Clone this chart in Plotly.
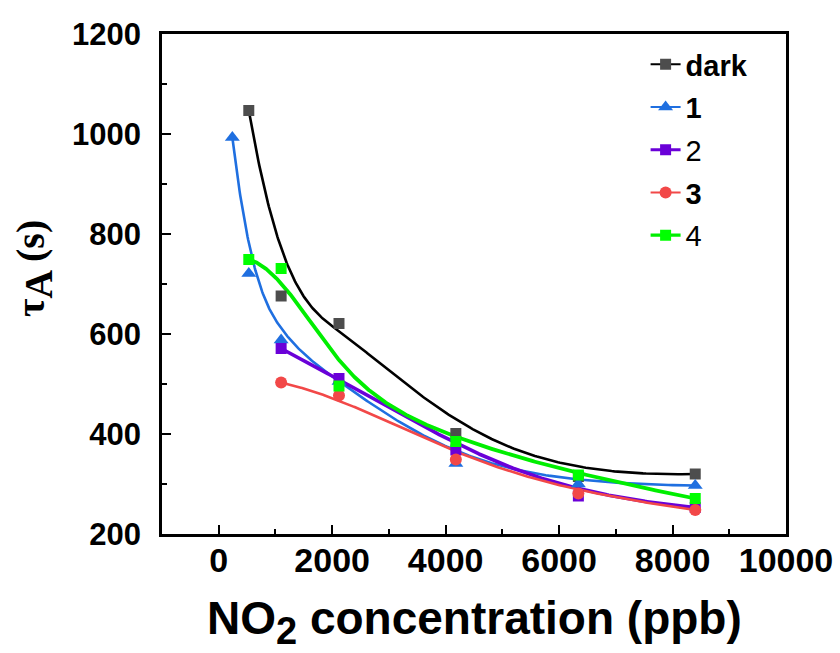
import numpy as np
import plotly.graph_objects as go

# ---- data ----
x_dark = [530, 1100, 2120, 4180, 6340, 8400]
y_dark = [1047, 676, 621, 401, 315, 320]

x_s1 = [240, 530, 1100, 2120, 4180, 6340, 8400]
y_s1 = [993, 721, 588, 505, 341, 300, 297]

x_s2 = [1100, 2120, 4180, 6340, 8400]
y_s2 = [571, 511, 368, 276, 253]

x_s3 = [1100, 2120, 4180, 6340, 8400]
y_s3 = [503, 477, 349, 281, 248]

x_s4 = [530, 1100, 2120, 4180, 6340, 8400]
y_s4 = [749, 731, 496, 385, 318, 271]

names = ["<b>dark</b>", "<b>1</b>", "2", "<b>3</b>", "4"]
xs = [x_dark, x_s1, x_s2, x_s3, x_s4]
ys = [y_dark, y_s1, y_s2, y_s3, y_s4]
line_colors = ["#000000", "#1f6fe0", "#6a00d8", "#f24848", "#00ee00"]
marker_colors = ["#4d4d4d", "#1f6fe0", "#6a00d8", "#f24848", "#00ff00"]
line_widths = [2.6, 2.6, 3.6, 2.6, 3.8]
symbols = ["square", "triangle-up", "square", "circle", "square"]
msizes = [11, 13, 11, 12, 11]

x_tick_vals = [0, 2000, 4000, 6000, 8000, 10000]
y_tick_vals = [200, 400, 600, 800, 1000, 1200]

x_title = "NO<sub><span style='font-size:38px'>2</span></sub> concentration (ppb)"
y_title = "τ<sub><span style='font-size:40px'>A</span></sub> (s)"


def bspline_curve(px, py, k=3, n=300):
    """Clamped uniform cubic B-spline using the data points as control points."""
    P = np.column_stack([px, py]).astype(float)
    m = len(P)
    k = min(k, m - 1)
    knots = np.r_[np.zeros(k), np.linspace(0, 1, m - k + 1), np.ones(k)]
    t = np.linspace(0, 1, n)
    t[-1] = 1 - 1e-12
    N = np.array([((knots[i] <= t) & (t < knots[i + 1])).astype(float)
                  for i in range(len(knots) - 1)])
    for d in range(1, k + 1):
        Nn = np.zeros((len(knots) - 1 - d, n))
        for i in range(len(knots) - 1 - d):
            a = knots[i + d] - knots[i]
            b = knots[i + d + 1] - knots[i + 1]
            term = np.zeros(n)
            if a > 0:
                term = term + (t - knots[i]) / a * N[i]
            if b > 0:
                term = term + (knots[i + d + 1] - t) / b * N[i + 1]
            Nn[i] = term
        N = Nn
    C = N.T @ P
    return C[:, 0], C[:, 1]


fig = go.Figure()

# smooth curves
for i in range(5):
    cx, cy = bspline_curve(xs[i], ys[i])
    fig.add_trace(go.Scatter(x=cx, y=cy, mode="lines", showlegend=False,
                             line=dict(color=line_colors[i], width=line_widths[i]),
                             hoverinfo="skip"))

# markers
for i in range(5):
    fig.add_trace(go.Scatter(x=xs[i], y=ys[i], mode="markers", showlegend=False,
                             marker=dict(symbol=symbols[i], size=msizes[i],
                                         color=marker_colors[i], line=dict(width=0))))

# legend entries (line + marker)
for i in range(5):
    fig.add_trace(go.Scatter(x=[None], y=[None], mode="lines+markers", name=names[i],
                             legendgroup="g%d" % i,
                             line=dict(color=line_colors[i], width=line_widths[i] - 0.6),
                             marker=dict(symbol=symbols[i], size=msizes[i],
                                         color=marker_colors[i], line=dict(width=0))))

axis_common = dict(
    showline=True, linecolor="black", linewidth=2.6, mirror=True,
    ticks="inside", tickcolor="black", tickwidth=2.2, ticklen=9,
    showgrid=False, zeroline=False, automargin=False,
)

fig.update_xaxes(
    range=[-1000, 10000], tickvals=x_tick_vals,
    ticktext=[str(v) for v in x_tick_vals],
    minor=dict(dtick=1000, tick0=0, ticks="inside", ticklen=5, tickwidth=2, tickcolor="black"),
    tickfont=dict(family="Liberation Sans, Arial", size=34, color="black", weight="bold"),
    ticklabelstandoff=-6,
    **axis_common,
)
fig.update_yaxes(
    range=[200, 1200], tickvals=y_tick_vals,
    ticktext=[str(v) for v in y_tick_vals],
    minor=dict(dtick=100, tick0=0, ticks="inside", ticklen=5, tickwidth=2, tickcolor="black"),
    tickfont=dict(family="Liberation Sans, Arial", size=31, color="black", weight="bold"),
    ticklabelstandoff=12,
    **axis_common,
)

fig.add_annotation(text=x_title, xref="paper", yref="paper", x=0.5, y=-0.176,
                   xanchor="center", yanchor="middle", showarrow=False,
                   font=dict(family="Liberation Sans, Arial", size=46, color="black",
                             weight="bold"))
fig.add_annotation(text=y_title, xref="paper", yref="paper", x=-0.205, y=0.53,
                   xanchor="center", yanchor="middle", showarrow=False, textangle=-90,
                   font=dict(family="Liberation Serif, Times New Roman", size=40,
                             color="black", weight="bold"))

fig.update_layout(
    width=840, height=653,
    margin=dict(l=162, r=54, t=34, b=119),
    paper_bgcolor="white", plot_bgcolor="white",
    legend=dict(x=0.775, y=0.99, xanchor="left", yanchor="top",
                traceorder="grouped", tracegroupgap=2,
                bgcolor="rgba(0,0,0,0)", borderwidth=0,
                font=dict(family="Liberation Sans, Arial", size=29, color="black")),
)

fig.write_html("out.html")
